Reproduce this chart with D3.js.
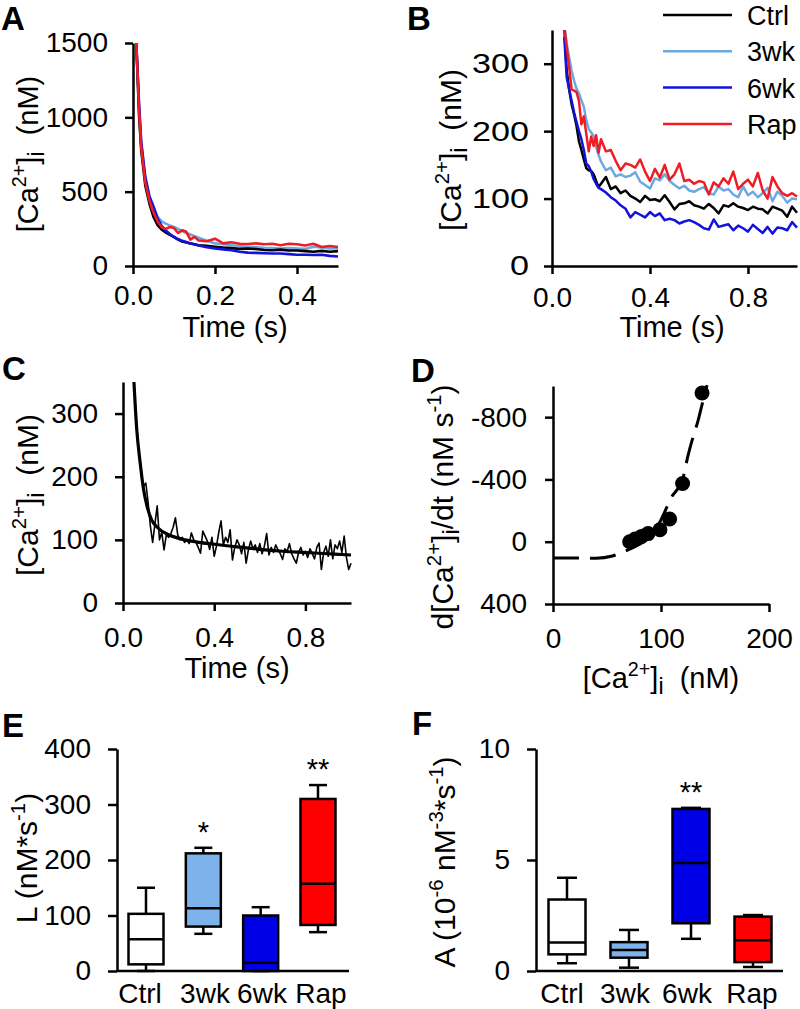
<!DOCTYPE html>
<html><head><meta charset="utf-8">
<script src="https://cdn.jsdelivr.net/npm/d3@7/dist/d3.min.js"></script>
<style>
body{margin:0;background:#fff}
svg{display:block}
</style></head><body>
<svg id="fig" width="800" height="1009"></svg>
<script>
// ---------------- DATA ----------------
const groups = ["Ctrl", "3wk", "6wk", "Rap"];
const groupColors = {"Ctrl": "#000000", "3wk": "#6ea8e2", "6wk": "#1212dc", "Rap": "#ee1c24"};
const boxFills = {"Ctrl": "#ffffff", "3wk": "#7db2eb", "6wk": "#0000e6", "Rap": "#ff0000"};

// Panel A (time, s) and traces (nM)
const tA = [0.008,0.015,0.02,0.03,0.04,0.05,0.06,0.07,0.08,0.09,0.10,0.11,0.12,0.13,0.14,0.15,0.16,0.18,0.20,0.22,0.24,0.26,0.28,0.30,0.32,0.34,0.36,0.38,0.40,0.42,0.44,0.46,0.48,0.50];
const aCtrl = [1500,1000,780,540,420,330,275,245,225,210,195,178,165,158,152,146,140,136,130,124,120,115,118,114,108,106,110,104,104,100,96,102,96,100];
const a3wk  = [1500,1060,820,580,460,390,330,300,285,272,262,250,235,222,212,200,190,170,152,146,140,134,130,126,122,120,118,120,118,115,130,125,118,120];
const a6wk  = [1500,1080,840,600,470,400,320,270,238,215,195,180,170,162,152,146,138,126,118,112,106,96,90,88,86,84,84,80,76,76,74,76,68,64];
const aRap  = [1500,1040,800,560,440,360,300,262,250,262,255,222,240,230,178,196,172,166,184,152,160,150,148,152,146,150,140,150,146,138,150,128,135,128];
const aXTicks = [0.0, 0.2, 0.4];
const aYTicks = [0, 500, 1000, 1500];

// Panel B
const tB = [0.05,0.06,0.07,0.08,0.09,0.10,0.11,0.12,0.13,0.14,0.15,0.16,0.17,0.18,0.19,0.20,
  0.22,0.24,0.26,0.28,0.30,0.32,0.34,0.36,0.38,0.40,0.42,0.44,0.46,0.48,0.50,0.52,0.54,0.56,0.58,0.60,
  0.62,0.64,0.66,0.68,0.70,0.72,0.74,0.76,0.78,0.80,0.82,0.84,0.86,0.88,0.90,0.92,0.94,0.96,0.98,1.00];
const bCtrl = [355,290,262,240,225,208,185,172,158,145,142,141,136,126,117,122,
  132,114,118,108,112,104,100,95,104,98,99,96,105,95,84,92,93,96,90,88,85,92,86,78,90,88,93,88,86,83,88,85,84,78,88,85,82,73,88,79];
const b3wk = [360,330,310,290,275,263,256,246,236,216,203,198,193,177,165,155,
  142,146,133,136,132,134,139,125,120,115,130,127,136,126,120,115,119,112,110,114,117,108,106,118,112,114,106,102,118,105,110,102,108,116,96,110,104,94,100,99];
const b6wk = [340,280,262,245,228,214,200,188,172,152,148,140,129,122,116,114,
  109,102,97,90,85,72,80,76,72,80,74,78,68,70,68,63,66,68,65,61,56,54,69,58,60,62,53,60,56,51,61,55,49,58,48,57,56,53,65,57];
const bRap = [355,325,295,262,260,258,245,210,222,196,170,192,178,194,168,188,
  170,172,156,142,152,150,146,158,140,126,144,131,150,128,136,152,126,128,122,126,124,106,124,118,130,122,140,114,122,128,118,138,112,100,132,118,108,104,108,103];
const bXTicks = [0.0, 0.4, 0.8];
const bYTicks = [0, 100, 200, 300];

// Panel C: raw trace sampled every 10 ms from 50 ms, and fitted curve
const cStart = 0.05, cStep = 0.01;
const cRaw = [340,280,238,205,185,
  190,160,122,96,125,154,100,112,84,108,
  104,110,120,135,108,100,104,96,100,94,
  111,100,96,88,79,114,106,98,85,104,
  74,90,112,130,92,104,96,116,68,88,
  100,92,78,96,63,84,98,86,92,80,
  94,78,90,110,76,88,80,92,84,78,
  69,86,82,94,78,70,63,80,88,76,
  82,72,86,78,70,88,95,53,80,90,
  74,100,70,92,86,98,80,106,72,53,
  63];
const cFitT = [0.048,0.06,0.075,0.09,0.105,0.125,0.15,0.2,0.25,0.3,0.4,0.5,0.6,0.7,0.8,0.9,1.0];
const cFitV = [350,276,223,180,154,132,120,108,102,98,93,89,85,82,80,78,76];
const cXTicks = [0.0, 0.4, 0.8];
const cYTicks = [0, 100, 200, 300];

// Panel D
const dPtCa   = [71, 76, 82, 88, 99, 108, 120, 138];
const dPtRate = [0, -17, -34, -52, -77, -146, -374, -955];
const dFitCa   = [0, 25, 40, 55, 65, 75, 85, 95, 100, 105, 110, 116, 120, 125, 130, 134, 138, 142.6];
const dFitRate = [105, 105, 106, 92, 66, 35, -5, -80, -140, -215, -290, -345, -400, -553, -680, -770, -880, -1005];
const dXTicks = [0, 100, 200];
const dYTicks = [400, 0, -400, -800];

// Panel E (L, nM*s-1)
const eWhiskLo = [0, 67, 0, 70];
const eQ1      = [12, 80, 0, 83];
const eMedian  = [57, 113, 15, 157];
const eQ3      = [103, 212, 100, 310];
const eWhiskHi = [150, 222, 115, 335];
const eStars   = ["", "*", "", "**"];
const eYTicks  = [0, 100, 200, 300, 400];

// Panel F (A, 10^-6 nM^-3*s^-1)
const fWhiskLo = [0.35, 0.15, 1.45, 0.18];
const fQ1      = [0.75, 0.6, 2.15, 0.4];
const fMedian  = [1.28, 0.95, 4.87, 1.38];
const fQ3      = [3.22, 1.3, 7.3, 2.45];
const fWhiskHi = [4.2, 1.85, 7.35, 2.52];
const fStars   = ["", "", "**", ""];
const fYTicks  = [0, 5, 10];

// ---------------- DRAWING ----------------
const FONT = '"Liberation Sans", Arial, Helvetica, sans-serif';
const TICK_FS = 28;
const svg = d3.select("#fig");
svg.append("rect").attr("width", 800).attr("height", 1009).attr("fill", "#fff");

function styleAxis(g, fs) {
  g.attr("font-size", fs).attr("font-family", FONT);
  g.select(".domain").attr("stroke", "#000").attr("stroke-width", 2.5);
  g.selectAll(".tick line").attr("stroke", "#000").attr("stroke-width", 2.5);
  g.selectAll(".tick text").attr("fill", "#000");
}

function rich(textSel, parts, fs) {
  let cur = 0;
  parts.forEach(([s, type]) => {
    let target = 0, size = fs;
    if (type === "sup") { target = -0.4 * fs; size = fs * 0.68; }
    if (type === "sub") { target = 0.2 * fs; size = fs * 0.8; }
    textSel.append("tspan").attr("dy", target - cur).attr("font-size", size).text(s);
    cur = target;
  });
}

function yTitle(x, yc, parts, fs) {
  fs = fs || 29;
  const t = svg.append("text")
    .attr("transform", `translate(${x},${yc}) rotate(-90)`)
    .attr("text-anchor", "middle").attr("font-family", FONT).attr("font-size", fs).attr("fill", "#000");
  rich(t, parts, fs);
}
function xTitle(xc, y, parts) {
  const t = svg.append("text").attr("x", xc).attr("y", y)
    .attr("text-anchor", "middle").attr("font-family", FONT).attr("font-size", 29).attr("fill", "#000");
  rich(t, parts, 29);
}
function panelLetter(s, x, y) {
  svg.append("text").attr("x", x).attr("y", y).attr("font-family", FONT)
    .attr("font-weight", "bold").attr("font-size", 33).attr("fill", "#000").text(s);
}

const caParts = [["[Ca", "n"], ["2+", "sup"], ["]", "n"], ["i", "sub"], ["\u00a0\u00a0(nM)", "n"]];

let clipId = 0;
function clip(x0, y0, x1, y1) {
  const id = "clip" + (clipId++);
  svg.append("clipPath").attr("id", id).append("rect")
    .attr("x", x0).attr("y", y0).attr("width", x1 - x0).attr("height", y1 - y0);
  return `url(#${id})`;
}

function tracePanel(opts) {
  const x = d3.scaleLinear().domain(opts.xDom).range(opts.xRange);
  const y = d3.scaleLinear().domain(opts.yDom).range(opts.yRange);
  const cp = clip(opts.xRange[0], opts.yRange[1], opts.xRange[1] + 3, opts.yRange[0]);
  const g = svg.append("g").attr("clip-path", cp);
  opts.series.forEach(s => {
    const line = d3.line().x(d => x(d[0])).y(d => y(d[1])).curve(s.curve || d3.curveLinear);
    g.append("path").datum(s.t.map((t, i) => [t, s.v[i]]))
      .attr("d", line).attr("fill", "none").attr("stroke", s.color)
      .attr("stroke-width", s.width).attr("stroke-linejoin", "round");
  });
  const xa = svg.append("g").attr("transform", `translate(0,${opts.yRange[0]})`)
    .call(d3.axisBottom(x).tickValues(opts.xTicks).tickFormat(opts.xFmt)
      .tickSize(8).tickSizeOuter(0).tickPadding(opts.xPad));
  styleAxis(xa, TICK_FS);
  const ya = svg.append("g").attr("transform", `translate(${opts.xRange[0]},0)`)
    .call(d3.axisLeft(y).tickValues(opts.yTicks).tickFormat(d => String(d))
      .tickSize(8).tickSizeOuter(0).tickPadding(opts.yPad));
  styleAxis(ya, TICK_FS);
  if (opts.yStretch) {
    ya.selectAll(".tick text")
      .attr("x", -(8 + opts.yPad) / opts.yStretch)
      .attr("transform", `scale(${opts.yStretch},1)`);
  }
  return {x, y};
}

// ---- Panel A
panelLetter("A", 1, 30);
tracePanel({
  xDom: [0, 0.5], xRange: [133, 338], yDom: [0, 1500], yRange: [266, 43],
  xTicks: aXTicks, yTicks: aYTicks, xFmt: d3.format(".1f"), xPad: 11, yPad: 17,
  series: [
    {t: tA, v: a3wk, color: groupColors["3wk"], width: 2.6},
    {t: tA, v: aCtrl, color: groupColors["Ctrl"], width: 2.6},
    {t: tA, v: a6wk, color: groupColors["6wk"], width: 2.6},
    {t: tA, v: aRap, color: groupColors["Rap"], width: 2.6}
  ]
});
yTitle(38, 154, caParts);
xTitle(235, 337, [["Time (s)", "n"]]);

// ---- Panel B
panelLetter("B", 407, 30);
tracePanel({
  xDom: [0, 1], xRange: [552, 797], yDom: [0, 350], yRange: [266, 30],
  xTicks: bXTicks, yTicks: bYTicks, xFmt: d3.format(".1f"), xPad: 13, yPad: 15, yStretch: 1.22,
  series: [
    {t: tB, v: bCtrl, color: groupColors["Ctrl"], width: 2.5},
    {t: tB, v: b3wk, color: groupColors["3wk"], width: 2.5},
    {t: tB, v: b6wk, color: groupColors["6wk"], width: 2.5},
    {t: tB, v: bRap, color: groupColors["Rap"], width: 2.5}
  ]
});
yTitle(461, 150, caParts, 30);
xTitle(672, 337, [["Time (s)", "n"]]);
// legend
const leg = svg.append("g");
groups.forEach((gname, i) => {
  const yy = 15 + i * 36.3;
  leg.append("line").attr("x1", 663).attr("x2", 732).attr("y1", yy).attr("y2", yy)
    .attr("stroke", groupColors[gname]).attr("stroke-width", 2.5);
  leg.append("text").attr("x", 747).attr("y", yy + 10).attr("font-family", FONT)
    .attr("font-size", 27).attr("fill", "#000").text(gname);
});

// ---- Panel C
panelLetter("C", 2, 380);
const cT = cRaw.map((_, i) => cStart + i * cStep);
tracePanel({
  xDom: [0, 1], xRange: [123, 351], yDom: [0, 350], yRange: [603, 382],
  xTicks: cXTicks, yTicks: cYTicks, xFmt: d3.format(".1f"), xPad: 16, yPad: 17,
  series: [
    {t: cT, v: cRaw, color: "#000", width: 1.6},
    {t: cFitT, v: cFitV, color: "#000", width: 3.2, curve: d3.curveMonotoneX}
  ]
});
yTitle(38, 495, caParts, 30);
xTitle(237, 678, [["Time (s)", "n"]]);

// ---- Panel D
panelLetter("D", 411, 382);
(function () {
  const x = d3.scaleLinear().domain([0, 200]).range([553, 769]);
  const y = d3.scaleLinear().domain([400, -1000]).range([604, 386]);
  const line = d3.line().x(d => x(d[0])).y(d => y(d[1])).curve(d3.curveMonotoneX);
  svg.append("path").datum(dFitCa.map((c, i) => [c, dFitRate[i]]))
    .attr("d", line).attr("fill", "none").attr("stroke", "#000")
    .attr("stroke-width", 3).attr("stroke-dasharray", "26,11");
  svg.append("g").selectAll("circle").data(dPtCa.map((c, i) => [c, dPtRate[i]]))
    .join("circle").attr("cx", d => x(d[0])).attr("cy", d => y(d[1])).attr("r", 7.5).attr("fill", "#000");
  const xa = svg.append("g").attr("transform", "translate(0,604)")
    .call(d3.axisBottom(x).tickValues(dXTicks).tickSize(8).tickSizeOuter(0).tickPadding(16));
  styleAxis(xa, TICK_FS);
  const ya = svg.append("g").attr("transform", "translate(553,0)")
    .call(d3.axisLeft(y).tickValues(dYTicks).tickFormat(d => String(d)).tickSize(8).tickSizeOuter(0).tickPadding(18));
  styleAxis(ya, TICK_FS);
})();
yTitle(453, 507, [["d[Ca", "n"], ["2+", "sup"], ["]", "n"], ["i", "sub"], ["/dt (nM s", "n"], ["-1", "sup"], [")", "n"]], 30);
xTitle(661, 688, caParts);

// ---- Box panels
function boxPanel(o) {
  const x = d3.scalePoint().domain(groups).range(o.xCenters);
  const y = d3.scaleLinear().domain(o.yDom).range([971, 749]);
  svg.append("line").attr("x1", o.axisX).attr("x2", o.xEnd).attr("y1", 971).attr("y2", 971)
    .attr("stroke", "#000").attr("stroke-width", 2.5);
  const g = svg.append("g");
  groups.forEach((gn, i) => {
    const cx = x(gn), bw = o.boxW, cw = o.capW;
    const s = (el) => el.attr("stroke", "#000").attr("stroke-width", 2.5);
    s(g.append("line").attr("x1", cx).attr("x2", cx).attr("y1", y(o.q3[i])).attr("y2", y(o.hi[i])));
    s(g.append("line").attr("x1", cx - cw / 2).attr("x2", cx + cw / 2).attr("y1", y(o.hi[i])).attr("y2", y(o.hi[i])));
    s(g.append("line").attr("x1", cx).attr("x2", cx).attr("y1", y(o.q1[i])).attr("y2", y(o.lo[i])));
    s(g.append("line").attr("x1", cx - cw / 2).attr("x2", cx + cw / 2).attr("y1", y(o.lo[i])).attr("y2", y(o.lo[i])));
    s(g.append("rect").attr("x", cx - bw / 2).attr("width", bw)
      .attr("y", y(o.q3[i])).attr("height", y(o.q1[i]) - y(o.q3[i])).attr("fill", boxFills[gn]));
    s(g.append("line").attr("x1", cx - bw / 2).attr("x2", cx + bw / 2).attr("y1", y(o.med[i])).attr("y2", y(o.med[i])));
    if (o.stars[i]) {
      g.append("text").attr("x", cx).attr("y", y(o.hi[i]) - 6).attr("text-anchor", "middle")
        .attr("font-family", FONT).attr("font-size", 29).attr("fill", "#000").text(o.stars[i]);
    }
  });
  const ya = svg.append("g").attr("transform", `translate(${o.axisX},0)`)
    .call(d3.axisLeft(y).tickValues(o.yTicks).tickFormat(d => String(d)).tickSize(9).tickSizeOuter(0).tickPadding(17));
  styleAxis(ya, TICK_FS);
  groups.forEach((gn, i) => {
    svg.append("text").attr("x", o.labelX[i]).attr("y", 1003).attr("text-anchor", "middle")
      .attr("font-family", FONT).attr("font-size", 28).attr("fill", "#000").text(gn);
  });
}

panelLetter("E", 2, 737);
boxPanel({
  xCenters: [146, 318], yDom: [0, 400], axisX: 117, xEnd: 349, boxW: 35, capW: 18,
  lo: eWhiskLo, q1: eQ1, med: eMedian, q3: eQ3, hi: eWhiskHi, stars: eStars, yTicks: eYTicks,
  labelX: [140, 205, 262, 321]
});
yTitle(37, 858, [["L (nM*s", "n"], ["-1", "sup"], [")", "n"]], 30);

panelLetter("F", 412, 735);
boxPanel({
  xCenters: [567, 753], yDom: [0, 10], axisX: 536, xEnd: 783, boxW: 37, capW: 20,
  lo: fWhiskLo, q1: fQ1, med: fMedian, q3: fQ3, hi: fWhiskHi, stars: fStars, yTicks: fYTicks,
  labelX: [562, 625, 687, 752]
});
yTitle(455, 862, [["A (10", "n"], ["-6", "sup"], [" nM", "n"], ["-3", "sup"], ["*s", "n"], ["-1", "sup"], [")", "n"]], 30);
</script>
</body></html>
